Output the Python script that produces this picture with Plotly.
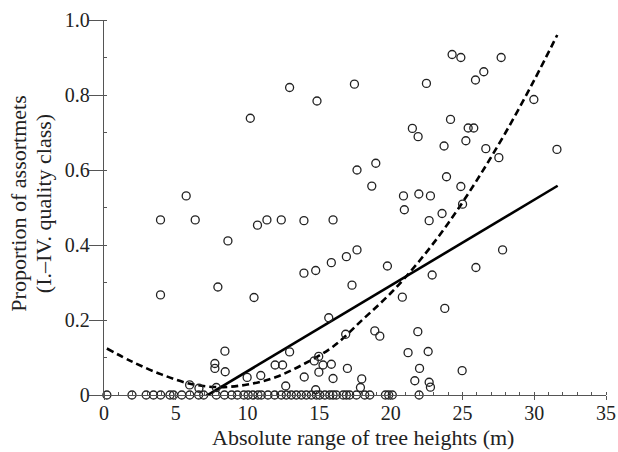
import plotly.graph_objects as go

# ---- data ----
pts_x = [10.2, 5.73, 12.94, 14.85, 17.46, 17.64, 18.95, 18.67, 20.88, 20.94,
         24.27, 24.88, 27.69, 22.48, 26.48, 25.9, 29.97, 24.16, 21.5, 21.9,
         25.39, 25.78, 25.23, 23.71, 26.62, 27.53, 31.58, 23.88, 24.88, 21.95,
         22.76, 25.0, 23.57, 22.67,
         3.94, 6.36, 10.7, 8.64, 3.94, 7.94, 10.46, 8.43, 7.73, 7.73,
         8.45, 5.97, 6.62, 7.83, 9.98, 10.93, 11.36, 12.36, 13.94, 15.97,
         13.94, 14.76, 15.85, 16.9, 17.64, 19.76, 17.29, 20.8, 15.67, 16.85,
         18.88, 19.23, 21.2, 12.94, 14.97, 14.66, 11.93, 12.45, 15.27, 15.85,
         14.98, 16.97, 13.96, 15.97, 17.97, 17.88, 12.67, 14.76, 27.79, 25.93,
         22.88, 23.76, 21.88, 22.6, 24.97, 22.0, 21.67, 22.67, 22.76]
pts_y = [0.738, 0.531, 0.820, 0.784, 0.829, 0.600, 0.618, 0.557, 0.531, 0.494,
         0.908, 0.900, 0.900, 0.831, 0.862, 0.840, 0.788, 0.735, 0.711, 0.689,
         0.712, 0.712, 0.678, 0.664, 0.657, 0.633, 0.655, 0.582, 0.556, 0.536,
         0.531, 0.509, 0.484, 0.465,
         0.467, 0.467, 0.453, 0.411, 0.267, 0.288, 0.260, 0.117, 0.084, 0.071,
         0.062, 0.027, 0.018, 0.020, 0.047, 0.052, 0.467, 0.467, 0.465, 0.467,
         0.325, 0.332, 0.353, 0.369, 0.387, 0.344, 0.293, 0.261, 0.206, 0.162,
         0.171, 0.157, 0.113, 0.115, 0.103, 0.091, 0.080, 0.080, 0.080, 0.082,
         0.061, 0.071, 0.048, 0.044, 0.043, 0.020, 0.024, 0.014, 0.387, 0.340,
         0.320, 0.231, 0.169, 0.116, 0.065, 0.071, 0.038, 0.034, 0.021]

zero_x = [0.2, 1.95, 2.94, 3.45, 3.95, 4.6, 4.85, 5.42, 5.98, 6.6, 6.95, 7.83,
          8.4, 8.9, 9.3, 9.75, 10.05, 10.38, 10.73, 10.97, 11.43, 11.9, 12.36,
          12.71, 13.06, 13.41, 13.76, 14.11, 14.46, 14.81, 15.04, 15.4, 15.74,
          15.97, 16.2, 16.67, 16.9, 17.13, 17.6, 18.18, 18.53, 19.62, 19.85,
          20.1, 21.97]
zero_y = [0.0] * len(zero_x)

lin_x = [7.1, 31.63]
lin_y = [-0.003, 0.558]

quad_x = [0.2, 2, 4, 6, 8, 10, 12, 14, 16, 18, 20, 22, 24, 26, 28, 30, 31.6]
quad_y = [0.124, 0.088, 0.055, 0.030, 0.021, 0.028, 0.048, 0.084, 0.130, 0.200,
          0.272, 0.358, 0.458, 0.573, 0.700, 0.840, 0.960]

x_ticks = [0, 5, 10, 15, 20, 25, 30, 35]
y_ticks = [0, 0.2, 0.4, 0.6, 0.8, 1.0]
y_ticktext = ["0", "0.2", "0.4", "0.6", "0.8", "1.0"]

x_title = "Absolute range of tree heights (m)"
y_title_1 = "Proportion of assortmets"
y_title_2 = "(I.–IV. quality class)"

FONT = "Liberation Serif"
INK = "#222222"
AX = "#555555"

fig = go.Figure()
fig.add_trace(go.Scatter(x=quad_x, y=quad_y, mode="lines", line_shape="spline",
                         line=dict(color="black", width=2.6, dash="7px,4px"),
                         cliponaxis=False, showlegend=False))
fig.add_trace(go.Scatter(x=lin_x, y=lin_y, mode="lines",
                         line=dict(color="black", width=2.6),
                         cliponaxis=False, showlegend=False))
fig.add_trace(go.Scatter(x=pts_x + zero_x, y=pts_y + zero_y, mode="markers",
                         marker=dict(symbol="circle-open", size=8, color=INK,
                                     line=dict(width=1.3, color=INK)),
                         cliponaxis=False, showlegend=False))

fig.update_layout(
    width=618, height=452,
    margin=dict(l=104, r=12, t=20, b=57, autoexpand=False),
    paper_bgcolor="white", plot_bgcolor="white",
    font=dict(family=FONT, color=INK, size=20),
    xaxis=dict(range=[0, 35], tickvals=x_ticks, ticks="outside", ticklen=4,
               tickcolor=AX, showline=True, linecolor=AX, linewidth=1.3,
               showgrid=False, zeroline=False, ticklabelstandoff=-4,
               tickfont=dict(family=FONT, size=20, color=INK),
               minor=dict(dtick=1, ticks="inside", ticklen=3, tickcolor=AX)),
    yaxis=dict(range=[0, 1.0], tickvals=y_ticks, ticktext=y_ticktext,
               ticks="outside", ticklen=14, tickcolor=AX, showline=True,
               linecolor=AX, linewidth=1.3, showgrid=False, zeroline=False,
               ticklabelstandoff=-5,
               tickfont=dict(family=FONT, size=20, color=INK),
               minor=dict(dtick=0.1, ticks="inside", ticklen=3, tickcolor=AX)),
    annotations=[
        dict(text=x_title, xref="paper", yref="paper",
             x=0.515, y=0, xanchor="center", yanchor="middle", yshift=-42,
             showarrow=False, font=dict(family=FONT, size=22, color=INK)),
        dict(text=y_title_1, xref="paper", yref="paper", x=0, y=0.509,
             xanchor="center", yanchor="middle", xshift=-85.5, textangle=-90,
             showarrow=False, font=dict(family=FONT, size=22, color=INK)),
        dict(text=y_title_2, xref="paper", yref="paper", x=0, y=0.509,
             xanchor="center", yanchor="middle", xshift=-61, textangle=-90,
             showarrow=False, font=dict(family=FONT, size=22, color=INK)),
    ],
)

fig.write_html("out.html", config={"displayModeBar": False},
               post_script="document.body.style.margin='0';")
